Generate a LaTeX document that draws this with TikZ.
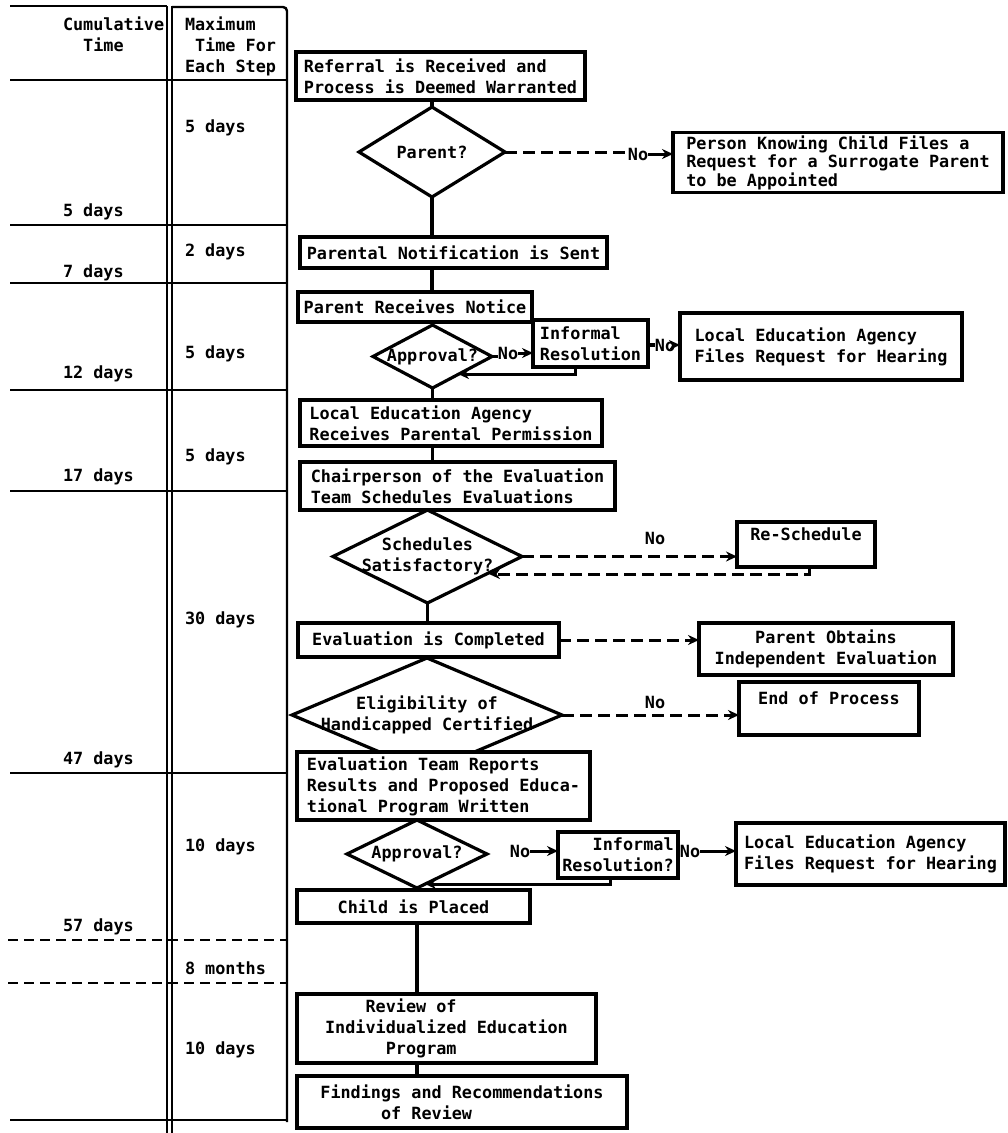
\documentclass[tikz,border=0pt]{standalone}
\usepackage{fontspec}
\setmonofont{DejaVu Sans Mono}
\usetikzlibrary{shapes.geometric,arrows.meta}
\begin{document}
\begin{tikzpicture}[x=1pt,y=-1pt,
  every node/.style={font=\ttfamily\bfseries\fontsize{16.8}{21}\selectfont, inner sep=0pt, outer sep=0pt},
  box/.style={draw, line width=3.2pt, fill=white, align=left},
  dia/.style={draw, diamond, line width=3.2pt, fill=white},
  tline/.style={line width=2.4pt},
  tdash/.style={line width=2.4pt, dash pattern=on 10pt off 6pt},
  conn/.style={line width=3.2pt},
  arr/.style={line width=3pt, -{Stealth[length=11pt,width=10pt]}},
  darr/.style={line width=3pt, dash pattern=on 12pt off 6pt, -{Stealth[length=11pt,width=10pt]}},
  dline/.style={line width=3pt, dash pattern=on 12pt off 6pt},
  lbl/.style={anchor=west}]
\useasboundingbox (0,0) rectangle (1008,1133);
\fill[white] (0,0) rectangle (1008,1133);

% ---------- time table ----------
\draw[tline] (10,6) -- (167,6);
\draw[tline, rounded corners=4pt] (172,7) -- (287,7) -- (287,1122);
\draw[tline] (167,6) -- (167,1133);
\draw[tline] (172,6) -- (172,1133);
\foreach \yy in {80,225,283,390,491,773,1120} {\draw[tline] (10,\yy) -- (287,\yy);}
\draw[tdash] (8,940) -- (287,940);
\draw[tdash] (8,983) -- (287,983);

\node[lbl, align=left] (hc) at (63,34) {Cumulative\\\phantom{XX}Time};
\node[lbl, align=left] (hm) at (185,46) {Maximum\\\phantom{X}Time For\\Each Step};

\node[lbl] (m1) at (185,128) {5 days};
\node[lbl] (m2) at (185,252) {2 days};
\node[lbl] (m3) at (185,354) {5 days};
\node[lbl] (m4) at (185,457) {5 days};
\node[lbl] (m5) at (185,620) {30 days};
\node[lbl] (m6) at (185,847) {10 days};
\node[lbl] (m7) at (185,968) {8 months};
\node[lbl] (m8) at (185,1050) {10 days};

\node[lbl] (c1) at (63,212) {5 days};
\node[lbl] (c2) at (63,273) {7 days};
\node[lbl] (c3) at (63,374) {12 days};
\node[lbl] (c4) at (63,477) {17 days};
\node[lbl] (c5) at (63,760) {47 days};
\node[lbl] (c6) at (63,927) {57 days};

% ---------- flow ----------
\node[box, minimum width=289, minimum height=48] (ref) at (440.5,76) {Referral is Received and\\Process is Deemed Warranted};
\node[dia, minimum width=146, minimum height=90, label=center:Parent?] (parentq) at (432,152) {};
\node[box, minimum width=330, minimum height=60, font=\ttfamily\bfseries\fontsize{16.8}{18.5}\selectfont] (surr) at (838,162.5) {Person Knowing Child Files a\\Request for a Surrogate Parent\\to be Appointed};
\node[box, minimum width=307, minimum height=31] (notif) at (453.5,252.5) {Parental Notification is Sent};
\node[box, minimum width=234, minimum height=30] (recv) at (415,307) {Parent Receives Notice};
\node[dia, minimum width=119, minimum height=63, label=center:Approval?] (appr1) at (432.5,356.5) {};
\node[box, minimum width=115, minimum height=47] (inf1) at (590.5,343.5) {Informal\\Resolution};
\node[box, minimum width=282, minimum height=67] (lea1) at (821,346.5) {Local Education Agency\\Files Request for Hearing};
\node[box, minimum width=302, minimum height=46] (perm) at (451,423) {Local Education Agency\\Receives Parental Permission};
\node[box, minimum width=315, minimum height=48] (chair) at (457.5,486) {Chairperson of the Evaluation\\Team Schedules Evaluations};
\node[dia, minimum width=189, minimum height=93, label={[align=center]center:Schedules\\Satisfactory?}] (sched) at (427.5,556.5) {};
\node[box, align=center, minimum width=138, minimum height=45] (resch) at (806,544.5) {Re-Schedule\\\phantom{X}};
\node[box, minimum width=261, minimum height=34] (evalc) at (428.5,640) {Evaluation is Completed};
\node[box, align=center, minimum width=254, minimum height=52] (indep) at (826,649) {Parent Obtains\\Independent Evaluation};
\node[dia, minimum width=270, minimum height=114, label={[align=center]center:Eligibility of\\Handicapped Certified}] (elig) at (427,715) {};
\node[box, align=center, minimum width=180, minimum height=53] (endp) at (829,708.5) {End of Process\\\phantom{X}};
\node[box, minimum width=293, minimum height=68] (etr) at (443.5,786) {Evaluation Team Reports\\Results and Proposed Educa-\\tional Program Written};
\node[dia, minimum width=140, minimum height=68, label=center:Approval?] (appr2) at (417,854) {};
\node[box, align=right, minimum width=120, minimum height=46] (inf2) at (618,855) {Informal\\Resolution?};
\node[box, minimum width=269, minimum height=62] (lea2) at (870.5,854) {Local Education Agency\\Files Request for Hearing};
\node[box, align=center, minimum width=233, minimum height=33] (placed) at (413.5,906.5) {Child is Placed};
\node[box, minimum width=299, minimum height=69] (review) at (446.5,1028.5) {\phantom{XXXX}Review of\\Individualized Education\\\phantom{XXXXXX}Program};
\node[box, minimum width=330, minimum height=52] (find) at (462,1102) {Findings and Recommendations\\\phantom{XXXXXX}of Review};

% vertical connectors
\draw[conn] (ref.south -| parentq.north) -- (parentq.north);
\draw[conn] (parentq.south) -- (parentq.south |- notif.north);
\draw[conn] (parentq.south |- notif.south) -- (parentq.south |- recv.north);
\draw[conn] (appr1.north) -- (appr1.north |- recv.south);
\draw[conn] (appr1.south) -- (appr1.south |- perm.north);
\draw[conn] (appr1.south |- perm.south) -- (appr1.south |- chair.north);
\draw[conn] (sched.north) -- (sched.north |- chair.south);
\draw[conn] (sched.south) -- (sched.south |- evalc.north);
\draw[conn] (elig.north) -- (elig.north |- evalc.south);
\draw[conn] (appr2.north) -- (appr2.north |- etr.south);
\draw[conn] (appr2.south) -- (appr2.south |- placed.north);
\draw[conn] (appr2.south |- placed.south) -- (appr2.south |- review.north);
\draw[conn] (appr2.south |- review.south) -- (appr2.south |- find.north);

% side branches
\node (no1) at (638,154) {No};
\draw[dline] (parentq.east) -- (parentq.east -| no1.west);
\draw[arr] (no1.east) -- (no1.east -| surr.west);

\node (no2) at (508,353) {No};
\draw[conn] (appr1.east) -- (appr1.east -| no2.west);
\draw[arr] (no2.east) -- (no2.east -| inf1.west);

\node (no3) at (665,345) {No};
\draw[conn] (inf1.east |- no3.west) -- (no3.west);
\draw[arr] (no3.east) -- (no3.east -| lea1.west);

\coordinate (fb1) at (458,374);
\draw[arr] (inf1.south) ++(-15.5,0) |- (fb1);

\node (no6) at (655,538) {No};
\draw[darr] (sched.east) -- (sched.east -| resch.west);
\coordinate (fb2) at (489,574);
\draw[darr] (resch.south) ++(3,0) |- (fb2);

\draw[darr] (evalc.east) -- (evalc.east -| indep.west);

\node (no7) at (655,702) {No};
\draw[darr] (elig.east) -- (elig.east -| endp.west);

\node (no4) at (520,851) {No};
\draw[arr] (no4.east) -- (no4.east -| inf2.west);

\node (no5) at (690,851) {No};
\draw[conn] (inf2.east |- no5.west) -- (no5.west);
\draw[arr] (no5.east) -- (no5.east -| lea2.west);

\coordinate (fb3) at (425,884);
\draw[arr] (inf2.south) ++(-8,0) |- (fb3);
\end{tikzpicture}
\end{document}
